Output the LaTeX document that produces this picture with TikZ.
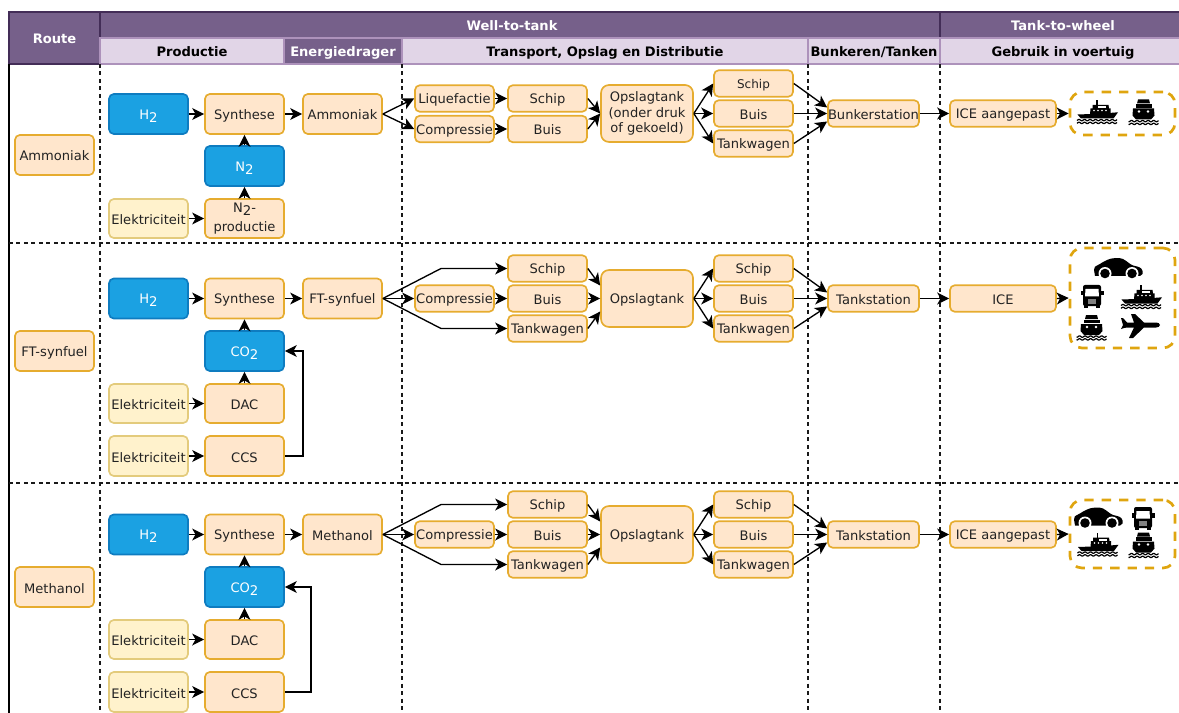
\documentclass[tikz,border=0pt]{standalone}
\usepackage{fontspec}
\setmainfont{DejaVu Sans}
\usetikzlibrary{arrows.meta,calc}
\definecolor{hdark}{HTML}{76608A}
\definecolor{hdarkline}{HTML}{432D57}
\definecolor{hlight}{HTML}{E1D5E7}
\definecolor{hlightline}{HTML}{AD92BB}
\definecolor{ofill}{HTML}{FFE6CC}
\definecolor{oline}{HTML}{E6AC2F}
\definecolor{bfill}{HTML}{1BA1E2}
\definecolor{bline}{HTML}{0E7CC0}
\definecolor{yfill}{HTML}{FFF2CC}
\definecolor{yline}{HTML}{E3CB7C}
\definecolor{dline}{HTML}{DFA50F}
\definecolor{txt}{HTML}{222222}
\newcommand{\sbs}[1]{\raisebox{-2.2pt}{\fontsize{10}{10}\selectfont #1}}
\newcommand{\wavelines}[3]{%
  \draw[line width=0.9pt,black] plot[domain=#1:#2,samples=50,smooth] (\x,{#3+0.7*sin(\x*65)});
  \draw[line width=0.9pt,black] plot[domain=#1:#2,samples=50,smooth] (\x,{#3+2.8+0.7*sin(\x*65)});}
\tikzset{
  bx/.style 2 args={minimum width=#1*0.75pt,minimum height=#2*0.75pt},
  lowtext/.style={execute at begin node={\rule[-1pt]{0pt}{11pt}}},
  base/.style={rounded corners=3.6pt,line width=1.25pt,inner sep=0pt,align=center,text=txt,lowtext,
    font=\fontsize{9.8}{11.4}\selectfont},
  obox/.style={base,draw=oline,fill=ofill},
  bbox/.style={base,draw=bline,fill=bfill,text=white},
  ybox/.style={base,draw=yline,fill=yfill},
  hd/.style={draw=hdarkline,fill=hdark,line width=0.8pt,inner sep=0pt,text=white,lowtext,
    font=\fontsize{9.8}{11.4}\selectfont\bfseries},
  hl/.style={draw=hlightline,fill=hlight,line width=0.8pt,inner sep=0pt,text=black,lowtext,
    font=\fontsize{9.8}{11.4}\selectfont\bfseries},
  dv/.style={black!90,line width=0.85pt,dash pattern=on 3pt off 2.6pt},
  arr/.style={black,line width=1pt,-{Stealth[length=9pt,width=9pt,inset=2.5pt]}},
  dbox/.style={draw=dline,rounded corners=9pt,line width=2pt,dash pattern=on 7pt off 6pt,inner sep=0pt},
  iconcar/.pic={
    \fill[black] (-24,2) .. controls (-24,-1) and (-23,-2) .. (-20,-3) .. controls (-16,-5) and (-14,-7) .. (-11,-8)
      .. controls (-6,-10.5) and (2,-10.5) .. (5,-9) .. controls (9,-7) and (12,-3.5) .. (15,-2.5)
      .. controls (19,-1.5) and (24,-1) .. (24.5,3) -- (24.5,6) -- (22,8) -- (-23,8) -- cycle;
    \fill[white] (-13,5.5) circle[radius=6.5];
    \fill[white] (14,5.5) circle[radius=6.5];
    \fill[black] (-13,5.5) circle[radius=4.8];
    \fill[black] (14,5.5) circle[radius=4.8];
  },
  icontruck/.pic={
    \fill[black,rounded corners=1.5pt] (-9,-11.5) rectangle (9,9.5);
    \fill[black] (-11.5,-5.5) rectangle (-8,-1);
    \fill[black] (8,-5.5) rectangle (11.5,-1);
    \fill[black] (-8,8) rectangle (-4,11.5);
    \fill[black] (4,8) rectangle (8,11.5);
    \fill[white] (-6.5,-7.5) -- (6.5,-7.5) -- (7,0) -- (-7,0) -- cycle;
    \fill[gray] (-4,2.5) rectangle (4,7);
  },
  icontug/.pic={
    \fill[black] (-0.8,-11.5) rectangle (0.8,-5);
    \fill[black] (-4.5,-6.5) -- (11.5,-6.5) -- (12,-3) -- (13.5,-3) -- (13.5,3) -- (-7,3) -- (-6.5,-3) -- (-4.5,-3) -- cycle;
    \fill[black] (-19.5,3) -- (3,2.2) -- (21,0.8) -- (16.5,7) -- (-16,7) -- cycle;
    \foreach \q in {-3,1,5,9} {\fill[white] (\q,-1) circle[radius=0.9];}
    \fill[white] (1,-5) rectangle (9,-3);
    \wavelines{-20}{20}{8.6}
  },
  iconferry/.pic={
    \fill[black] (-6,-12) -- (5,-12) -- (6,-8) -- (-7,-8) -- cycle;
    \fill[black] (-8.5,-7.2) rectangle (7.5,-3.8);
    \fill[black] (-11,-3) -- (10,-3) -- (10.5,4) -- (7,8) -- (-8,8) -- (-11.5,4) -- cycle;
    \fill[white] (-5,0) circle[radius=1.3];
    \fill[white] (4,0) circle[radius=1.3];
    \wavelines{-15.5}{14.5}{9.6}
  },
  iconplane/.pic={
    \fill[black,line join=round] (19,-1) .. controls (19,-2.5) and (17,-3.5) .. (15,-3.5) -- (3,-3.5) -- (-6,-12) -- (-10,-12) -- (-7,-3.5)
      -- (-14,-3.5) -- (-18,-8) -- (-20,-8) -- (-18,-1) -- (-20,3) -- (-17,2) -- (-14,1.5) -- (-7,1.5) -- (-12,12) -- (-8,12) -- (3,1.5)
      -- (15,1.5) .. controls (17,1.5) and (19,0.5) .. (19,-1) -- cycle;
  },
}
\begin{document}
\begin{tikzpicture}[x=0.75pt,y=-0.75pt]
\useasboundingbox (0,0) rectangle (1179,713);
% header
\node[hd,bx={91}{52}] (route) at (54.5,38) {Route};
\node[hd,bx={840}{26}] (wtt) at (520,25) {};
\node[hd,bx={246}{26}] (ttw) at (1063,25) {Tank-to-wheel};
\node[hl,bx={184}{26}] (prod) at (192,51) {Productie};
\node[hl,bx={406}{26}] (tod) at (605,51) {Transport, Opslag en Distributie};
\node[hl,bx={132}{26}] (bunk) at (874,51) {Bunkeren/Tanken};
\node[hl,bx={246}{26}] (gebr) at (1063,51) {Gebruik in voertuig};
\node[hd,draw=hlightline,bx={118}{26}] (ener) at (343,51) {Energiedrager};
\node[text=white,lowtext,font=\fontsize{9.8}{11.4}\selectfont\bfseries,inner sep=0pt] (wtttxt) at (512,25) {Well-to-tank};
% grid
\coordinate (gl1) at (9,243); \coordinate (gr1) at (1179,243);
\coordinate (gl2) at (9,483); \coordinate (gr2) at (1179,483);
\coordinate (lt) at (9,64); \coordinate (lb) at (9,713);
\draw[black,line width=1pt] (lt) -- (lb);
\draw[dv] (gl1) -- (gr1);
\draw[dv] (gl2) -- (gr2);
\foreach \vx/\vn in {100/a,402/b,808/c,940/d}{
  \coordinate (vt\vn) at (\vx,64); \coordinate (vb\vn) at (\vx,713);
  \draw[dv] (vt\vn) -- (vb\vn);
}
% row 1
\node[obox,bx={79}{40}] (ra) at (54.5,155) {Ammoniak};
\node[bbox,bx={79}{40}] (ah2) at (148.5,114) {H\sbs{2}};
\node[obox,bx={79}{40}] (asyn) at (244.5,114) {Synthese};
\node[bbox,bx={79}{40}] (an2) at (244.5,166) {N\sbs{2}};
\node[ybox,bx={79}{39}] (ael) at (148.5,218.5) {Elektriciteit};
\node[obox,bx={79}{39}] (anp) at (244.5,218.5) {N\sbs{2}-\\[3pt]productie};
\node[obox,bx={79}{40}] (aam) at (342.5,114) {Ammoniak};
\node[obox,bx={79}{26.5}] (aliq) at (454.5,98.5) {Liquefactie};
\node[obox,bx={79}{26.5}] (acom) at (454.5,129) {Compressie};
\node[obox,bx={79}{26.5}] (asch) at (547.5,98.5) {Schip};
\node[obox,bx={79}{26.5}] (abui) at (547.5,129) {Buis};
\node[obox,bx={92}{57},rounded corners=6pt] (aops) at (647,113.5) {Opslagtank\\(onder druk\\of gekoeld)};
\node[obox,bx={79}{26.5},font=\fontsize{9}{11}\selectfont] (asc2) at (753.5,83.5) {Schip};
\node[obox,bx={79}{26.5}] (abu2) at (753.5,113.5) {Buis};
\node[obox,bx={79}{26.5}] (atw) at (753.5,143.5) {Tankwagen};
\node[obox,bx={91}{26.5}] (abs) at (873.5,113.5) {Bunkerstation};
\node[obox,bx={106}{26.5}] (aice) at (1003,113.5) {ICE aangepast};
\node[dbox,bx={105}{43}] (aveh) at (1122.5,113.5) {};
\pic at (1097,111.5) {icontug};
\pic at (1144,111.5) {iconferry};
\draw[arr] (ah2) -- (asyn);
\draw[arr] (asyn) -- (aam);
\draw[arr] (an2) -- (asyn);
\draw[arr] (anp) -- (an2);
\draw[arr] (ael) -- (anp);
\draw[arr] (aam.east) -- (aliq.west);
\draw[arr] (aam.east) -- (acom.west);
\draw[arr] (aliq) -- (asch);
\draw[arr] (acom) -- (abui);
\draw[arr] (asch.east) -- (aops.west);
\draw[arr] (abui.east) -- (aops.west);
\draw[arr] (aops.east) -- (asc2.west);
\draw[arr] (aops.east) -- (abu2.west);
\draw[arr] (aops.east) -- (atw.west);
\draw[arr] (asc2.east) -- ($(abs.west)+(0,-6)$);
\draw[arr] (abu2.east) -- (abs.west);
\draw[arr] (atw.east) -- ($(abs.west)+(0,8)$);
\draw[arr] (abs) -- (aice);
\draw[arr] (aice) -- (aveh);
% rows 2 and 3
\foreach \r/\o/\rname/\cname/\icetxt/\icew/\ccsx/\vh/\vy in
  {b/0/FT-synfuel/FT-synfuel/ICE/106/303/100/298, c/236/Methanol/Methanol/ICE aangepast/106/311/68/298}{
  \node[obox,bx={79}{40}] (\r r) at (54.5,351+\o) {\rname};
  \node[bbox,bx={79}{40}] (\r h) at (148.5,298.5+\o) {H\sbs{2}};
  \node[obox,bx={79}{40}] (\r s) at (244.5,298.5+\o) {Synthese};
  \node[bbox,bx={79}{40}] (\r co) at (244.5,351+\o) {CO\sbs{2}};
  \node[ybox,bx={79}{39}] (\r ed) at (148.5,403.5+\o) {Elektriciteit};
  \node[obox,bx={79}{39}] (\r dac) at (244.5,403.5+\o) {DAC};
  \node[ybox,bx={79}{40}] (\r ec) at (148.5,456+\o) {Elektriciteit};
  \node[obox,bx={79}{40}] (\r ccs) at (244.5,456+\o) {CCS};
  \node[obox,bx={79}{40}] (\r f) at (342.5,298.5+\o) {\cname};
  \node[obox,bx={79}{26.5}] (\r cm) at (454.5,298.5+\o) {Compressie};
  \node[obox,bx={79}{26.5}] (\r sc) at (547.5,268.5+\o) {Schip};
  \node[obox,bx={79}{26.5}] (\r bu) at (547.5,298.5+\o) {Buis};
  \node[obox,bx={79}{26.5}] (\r tw) at (547.5,328.5+\o) {Tankwagen};
  \node[obox,bx={92}{57},rounded corners=6pt] (\r op) at (647,298.5+\o) {Opslagtank};
  \node[obox,bx={79}{26.5}] (\r sd) at (753.5,268.5+\o) {Schip};
  \node[obox,bx={79}{26.5}] (\r be) at (753.5,298.5+\o) {Buis};
  \node[obox,bx={79}{26.5}] (\r te) at (753.5,328.5+\o) {Tankwagen};
  \node[obox,bx={91}{26.5}] (\r st) at (873.5,298.5+\o) {Tankstation};
  \node[obox,bx={106}{26.5}] (\r ic) at (1003,298.5+\o) {\icetxt};
  \coordinate (\r ku) at (441,268.5+\o);
  \coordinate (\r kd) at (441,328.5+\o);
  \coordinate (\r cb) at (\ccsx,456+\o);
  \coordinate (\r ct) at (\ccsx,351+\o);
  \draw[arr] (\r h) -- (\r s);
  \draw[arr] (\r s) -- (\r f);
  \draw[arr] (\r co) -- (\r s);
  \draw[arr] (\r dac) -- (\r co);
  \draw[arr] (\r ed) -- (\r dac);
  \draw[arr] (\r ec) -- (\r ccs);
  \draw[arr] (\r ccs.east) -- (\r cb) -- (\r ct) -- (\r co.east);
  \draw[arr] (\r f.east) -- (\r ku) -- (\r sc.west);
  \draw[arr] (\r f.east) -- (\r cm.west);
  \draw[arr] (\r f.east) -- (\r kd) -- (\r tw.west);
  \draw[arr] (\r cm) -- (\r bu);
  \draw[arr] (\r sc.east) -- ($(\r op.west)+(0,-13)$);
  \draw[arr] (\r bu) -- (\r op);
  \draw[arr] (\r tw.east) -- ($(\r op.west)+(0,13)$);
  \draw[arr] (\r op.east) -- (\r sd.west);
  \draw[arr] (\r op.east) -- (\r be.west);
  \draw[arr] (\r op.east) -- (\r te.west);
  \draw[arr] (\r sd.east) -- ($(\r st.west)+(0,-6)$);
  \draw[arr] (\r be) -- (\r st);
  \draw[arr] (\r te.east) -- ($(\r st.west)+(0,8)$);
  \draw[arr] (\r st) -- (\r ic);
}
\node[dbox,bx={105}{100}] (bveh) at (1122.5,298) {};
\node[dbox,bx={105}{68}] (cveh) at (1122.5,534) {};
\draw[arr] (bic.east) -- (bveh.west);
\draw[arr] (cic.east) -- (cveh.west);
\pic at (1118,268) {iconcar};
\pic at (1092,296.5) {icontruck};
\pic at (1141,296.5) {icontug};
\pic at (1092,327) {iconferry};
\pic at (1141,326) {iconplane};
\pic at (1098,517.5) {iconcar};
\pic at (1143,518.5) {icontruck};
\pic at (1097.5,544) {icontug};
\pic at (1144,544.5) {iconferry};
\end{tikzpicture}
\end{document}
